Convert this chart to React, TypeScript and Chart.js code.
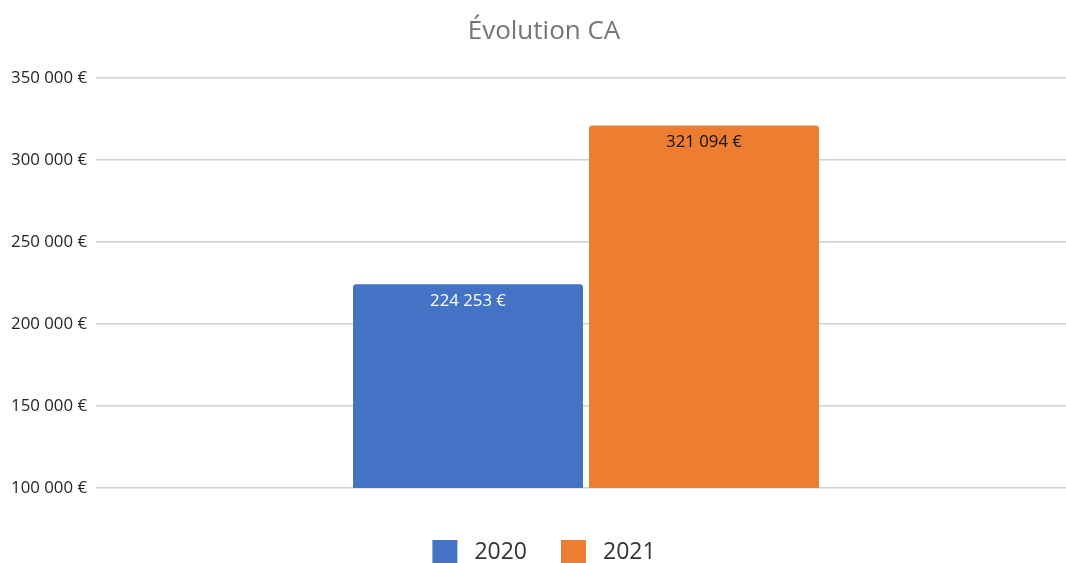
import React, { useEffect, useRef } from "react";
import { Chart, registerables } from "chart.js";

Chart.register(...registerables);

const categories = [""];
const seriesLabels = ["2020", "2021"];
const values2020 = [224253];
const values2021 = [321094];
const seriesColors = ["#4472C4", "#ED7D31"];
const labelColors = ["#FFFFFF", "#111111"];
const yMin = 100000;
const yMax = 350000;
const yStep = 50000;
const titleText = "Évolution CA";

const FONT = "'Open Sans', 'Liberation Sans', sans-serif";

const fmt = (v: number) =>
  Math.round(v)
    .toString()
    .replace(/\B(?=(\d{3})+(?!\d))/g, " ") + " €";

const dataLabelPlugin = {
  id: "dataLabels",
  afterDatasetsDraw(chart: any) {
    const ctx = chart.ctx;
    chart.data.datasets.forEach((ds: any, i: number) => {
      const meta = chart.getDatasetMeta(i);
      meta.data.forEach((bar: any, j: number) => {
        ctx.save();
        ctx.fillStyle = labelColors[i];
        ctx.font = `16.8px ${FONT}`;
        ctx.textAlign = "center";
        ctx.textBaseline = "middle";
        ctx.fillText(fmt(ds.data[j]), bar.x, bar.y + 17);
        ctx.restore();
      });
    });
  },
};

const customLegendPlugin = {
  id: "customLegend",
  afterDraw(chart: any) {
    const ctx = chart.ctx;
    const boxW = 25;
    const boxH = 24;
    const gapText = 17;
    const gapItem = 34;
    ctx.save();
    ctx.font = `23px ${FONT}`;
    const items = chart.data.datasets.map((ds: any) => ({
      text: ds.label,
      color: ds.backgroundColor,
      w: ctx.measureText(ds.label).width,
    }));
    let total = 0;
    items.forEach((it: any, k: number) => {
      total += boxW + gapText + it.w + (k < items.length - 1 ? gapItem : 0);
    });
    const cx = chart.width / 2 + 6;
    let x = cx - total / 2;
    const top = chart.chartArea.bottom + 52;
    const cy = top + boxH / 2;
    items.forEach((it: any) => {
      ctx.fillStyle = it.color;
      ctx.fillRect(x, top, boxW, boxH);
      x += boxW + gapText;
      ctx.fillStyle = "#333333";
      ctx.textAlign = "left";
      ctx.textBaseline = "middle";
      ctx.fillText(it.text, x, cy);
      x += it.w + gapItem;
    });
    ctx.restore();
  },
};

export default function App() {
  const ref = useRef<HTMLCanvasElement>(null);
  useEffect(() => {
    if (!ref.current) return;
    const barOpts = {
      borderRadius: { topLeft: 3, topRight: 3 },
      borderSkipped: "bottom",
      barPercentage: 0.9746,
      categoryPercentage: 0.4816,
    };
    const chart = new Chart(ref.current, {
      type: "bar",
      data: {
        labels: categories,
        datasets: [
          { label: seriesLabels[0], data: values2020, backgroundColor: seriesColors[0], ...barOpts },
          { label: seriesLabels[1], data: values2021, backgroundColor: seriesColors[1], ...barOpts },
        ],
      } as any,
      options: {
        animation: false,
        responsive: false,
        maintainAspectRatio: false,
        layout: { padding: { left: 12, right: 0, top: 0, bottom: 75 } },
        plugins: {
          title: {
            display: true,
            text: titleText,
            color: "#757575",
            font: { family: FONT, size: 26, weight: "normal", lineHeight: 1.2 },
            padding: { top: 16.4, bottom: 30.4 },
          },
          legend: { display: false },
          tooltip: { enabled: false },
        },
        scales: {
          x: {
            display: false,
            grid: { display: false },
          },
          y: {
            min: yMin,
            max: yMax,
            border: { display: false },
            grid: { color: "#D0D0D0", lineWidth: 1.6, drawTicks: false },
            afterFit: (s: any) => {
              s.width = 84;
            },
            ticks: {
              stepSize: yStep,
              padding: 9,
              color: "#262626",
              font: { family: FONT, size: 16.8 },
              callback: (v: any) => fmt(Number(v)),
            },
          },
        },
      } as any,
      plugins: [dataLabelPlugin, customLegendPlugin],
    });
    return () => chart.destroy();
  }, []);
  return (
    <div style={{ position: "fixed", left: 0, top: 0, width: 1066, height: 563, overflow: "hidden" }}>
      <canvas ref={ref} width={1076} height={563} />
    </div>
  );
}
